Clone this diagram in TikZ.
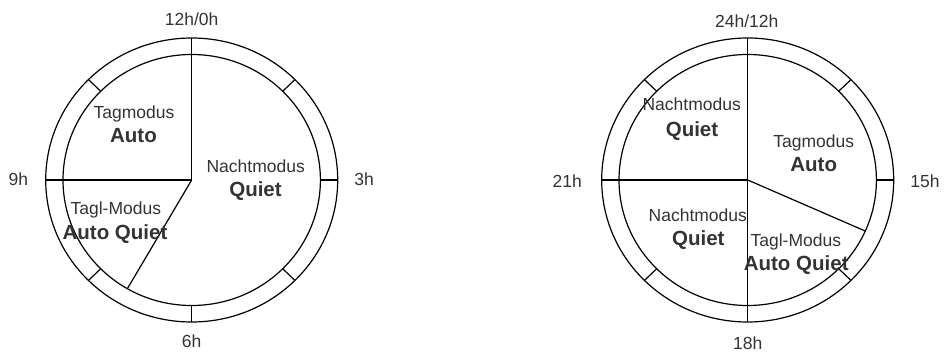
\documentclass[tikz,border=0pt]{standalone}
\usepackage{fontspec}
\setmainfont{Liberation Sans}
\definecolor{txtgray}{HTML}{333333}
\begin{document}
\begin{tikzpicture}[x=1pt,y=1pt,line width=1.2pt,
    lbl/.style={text=txtgray,font=\fontsize{17.5}{20}\selectfont,anchor=base,inner sep=0pt},
    bold/.style={lbl,font=\fontsize{20.5}{24}\selectfont\bfseries}]
  \useasboundingbox (0,0) rectangle (944,351);
  % left dial (12h)
  \begin{scope}[shift={(191.7,171)}]
    \draw (0,0) ellipse [x radius=146,y radius=142];
    \draw (0,0) ellipse [x radius=128.7,y radius=125.5];
    \foreach \a in {0,45,135,225,270,315}
      \draw (\a:128.7 and 125.5) -- (\a:146 and 142);
    \draw (0,0) -- (90:146 and 142);
    \draw (0,0) -- (180:146 and 142);
    \draw (0,0) -- (240:128.7 and 125.5);
    % hours
    \node[lbl] (top12) at (0,154) {12h/0h};
    \node[lbl] (left9) at (-173.4,-6) {9h};
    \node[lbl] (right3) at (172.3,-6) {3h};
    \node[lbl] (bot6) at (0,-167) {6h};
    % modes
    \node[lbl] (tagL) at (-57.7,61) {Tagmodus};
    \node[bold] (tagLb) at (-58.2,37.5) {Auto};
    \node[lbl] (nachtL) at (64,7.7) {Nachtmodus};
    \node[bold] (nachtLb) at (63.8,-17) {Quiet};
    \node[lbl] (taglL) at (-75.9,-34) {Tagl-Modus};
    \node[bold] (taglLb) at (-76.7,-59.5) {Auto Quiet};
  \end{scope}
  % right dial (24h)
  \begin{scope}[shift={(747.7,171)}]
    \draw (0,0) ellipse [x radius=146,y radius=142];
    \draw (0,0) ellipse [x radius=128.7,y radius=125.5];
    \foreach \a in {0,45,135,225,315}
      \draw (\a:128.7 and 125.5) -- (\a:146 and 142);
    \draw (90:146 and 142) -- (270:146 and 142);
    \draw (0,0) -- (180:146 and 142);
    \draw (0,0) -- (-24:128.7 and 125.5);
    % hours
    \node[lbl] (top24) at (-1,152.5) {24h/12h};
    \node[lbl] (left21) at (-180.5,-7) {21h};
    \node[lbl] (right15) at (177.3,-7) {15h};
    \node[lbl] (bot18) at (0,-169) {18h};
    % modes
    \node[lbl] (nachtR) at (-56,69) {Nachtmodus};
    \node[bold] (nachtRb) at (-55.7,43.5) {Quiet};
    \node[lbl] (tagR) at (66.1,32.7) {Tagmodus};
    \node[bold] (tagRb) at (66,8.3) {Auto};
    \node[lbl] (nachtRl) at (-49.9,-41.7) {Nachtmodus};
    \node[bold] (nachtRlb) at (-49.4,-65.7) {Quiet};
    \node[lbl] (taglR) at (48.1,-66) {Tagl-Modus};
    \node[bold] (taglRb) at (48.5,-90) {Auto Quiet};
  \end{scope}
\end{tikzpicture}
\end{document}
